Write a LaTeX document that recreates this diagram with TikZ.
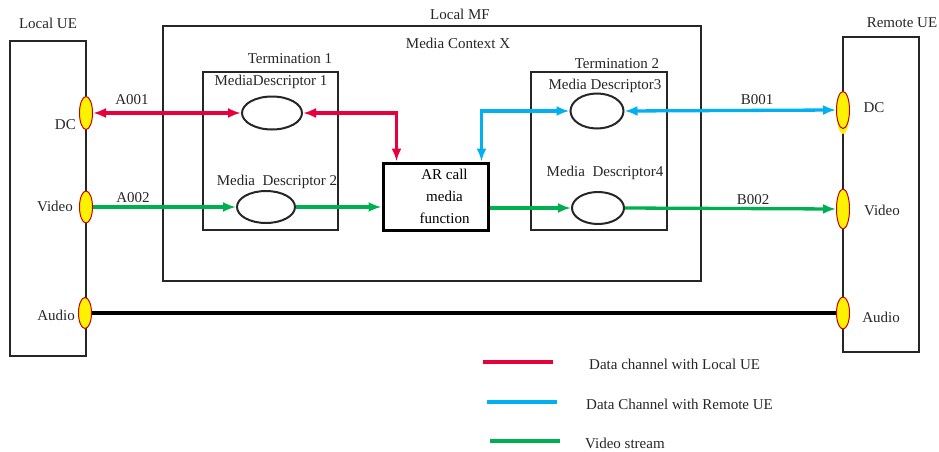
\documentclass[tikz,border=0pt]{standalone}
\usepackage{fontspec}
\setmainfont{Liberation Serif}
\usetikzlibrary{arrows.meta,shapes.geometric,calc}
\definecolor{cred}{HTML}{E8003D}
\definecolor{cblue}{HTML}{00B0F0}
\definecolor{cgreen}{HTML}{00B050}
\definecolor{cport}{HTML}{C00000}
\begin{document}
\begin{tikzpicture}[x=1pt,y=-1pt,
  font=\fontsize{15}{22}\selectfont,
  box/.style={draw=black!85,line width=2pt,rectangle,inner sep=0pt},
  arbox/.style={draw=black,line width=3pt,rectangle,inner sep=0pt,align=center},
  md/.style={draw=black!85,line width=2pt,ellipse,inner sep=0pt},
  port/.style={draw=cport,fill=yellow,line width=1pt,ellipse,inner sep=0pt,minimum width=13pt},
  txt/.style={inner sep=0pt,text=black!85},
  tip/.style={arrows={-Latex[length=13pt,width=10pt]}},
  dtip/.style={arrows={Latex[length=13pt,width=10pt]-Latex[length=13pt,width=10pt]}},
  redline/.style={draw=cred,line width=3.3pt},
  blueline/.style={draw=cblue,line width=3.3pt},
  greenline/.style={draw=cgreen,line width=3.3pt},
  audioline/.style={draw=black,line width=3.3pt}]
\useasboundingbox (0,0) rectangle (939,452);
% boxes
\node[box,minimum width=76pt,minimum height=315pt] (lue) at (48,198.5) {};
\node[box,minimum width=538pt,minimum height=255pt] (mf) at (432,153.5) {};
\node[box,minimum width=135pt,minimum height=158pt] (t1) at (270.5,151) {};
\node[box,minimum width=136pt,minimum height=158pt] (t2) at (599,151) {};
\node[box,minimum width=76pt,minimum height=315pt] (rue) at (881,194.5) {};
\node[arbox,minimum width=105pt,minimum height=67pt] (ar) at (435.5,196.5) {\hspace*{18pt}AR call\\\hspace*{18pt}media\\\hspace*{18pt}function};
% titles
\node[txt] (lueT) at (48,23) {Local UE};
\node[txt] (mfT) at (460,14) {Local MF};
\node[txt] (mcx) at (458,43) {Media Context X};
\node[txt] (t1T) at (290,59) {Termination 1};
\node[txt] (t2T) at (617,64) {Termination 2};
\node[txt] (rueT) at (902,23) {Remote UE};
% media descriptors
\node[txt] (md1T) at (271,82) {MediaDescriptor 1};
\node[md,minimum width=60pt,minimum height=33pt] (md1) at (272,113) {};
\node[txt] (md2T) at (277,182) {Media\ \ Descriptor 2};
\node[md,minimum width=58pt,minimum height=32pt] (md2) at (266,207) {};
\node[txt] (md3T) at (605,86) {Media Descriptor3};
\node[md,minimum width=53pt,minimum height=35pt] (md3) at (597,111) {};
\node[txt] (md4T) at (605,173) {Media\ \ Descriptor4};
\node[md,minimum width=52pt,minimum height=32pt] (md4) at (598,208) {};
% ports
\node[port,minimum height=33pt] (ldc) at (86,113) {};
\node[port,minimum height=32pt] (lvid) at (86,207) {};
\node[port,minimum height=31pt] (laud) at (85,313) {};
\fill[yellow] (843,117) ellipse (6pt and 17pt);
\node[port,minimum height=37pt] (rdc) at (843,110) {};
\node[port,minimum height=40pt] (rvid) at (843,209) {};
\node[port,minimum height=32pt] (raud) at (843,313) {};
% port labels
\node[txt,anchor=east] (ldcT) at (76,125) {DC};
\node[txt] (lvidT) at (55,206) {Video};
\node[txt] (laudT) at (56,315) {Audio};
\node[txt] (rdcT) at (874,108) {DC};
\node[txt] (rvidT) at (882,210) {Video};
\node[txt] (raudT) at (881,317) {Audio};
% connectors
\draw[redline,dtip] (ldc.east) -- (md1.west);
\node[txt] (a001) at (132,100) {A001};
\coordinate (arRed) at ($(ar.north west)+(15,0)$);
\draw[redline,dtip] (md1.east) -| (arRed);
\coordinate (arBlue) at ($(ar.north east)+(-8,0)$);
\draw[blueline,dtip] (arBlue) |- (md3.west);
\draw[blueline,dtip] (md3.east) -- (rdc.west);
\node[txt] (b001) at (757,100) {B001};
\draw[greenline,tip] (lvid.east) -- (md2.west);
\node[txt] (a002) at (133,198) {A002};
\draw[greenline,tip] (md2.east) -- (md2.east -| ar.west);
\draw[greenline,tip] (ar.east |- md4.west) -- (md4.west);
\draw[greenline,tip] (md4.east) -- (rvid.west);
\node[txt] (b002) at (753,200) {B002};
\draw[audioline] (laud.east) -- (raud.west);
% legend
\coordinate (lr1) at (483,362); \coordinate (lr2) at (553,362);
\coordinate (lb1) at (487,402); \coordinate (lb2) at (557,402);
\coordinate (lg1) at (490,441); \coordinate (lg2) at (560,441);
\draw[redline] (lr1) -- (lr2);
\draw[blueline] (lb1) -- (lb2);
\draw[greenline] (lg1) -- (lg2);
\node[txt,anchor=west] (legR) at (589,364) {Data channel with Local UE};
\node[txt,anchor=west] (legB) at (586,404) {Data Channel with Remote UE};
\node[txt,anchor=west] (legG) at (585,443) {Video stream};
\end{tikzpicture}
\end{document}
